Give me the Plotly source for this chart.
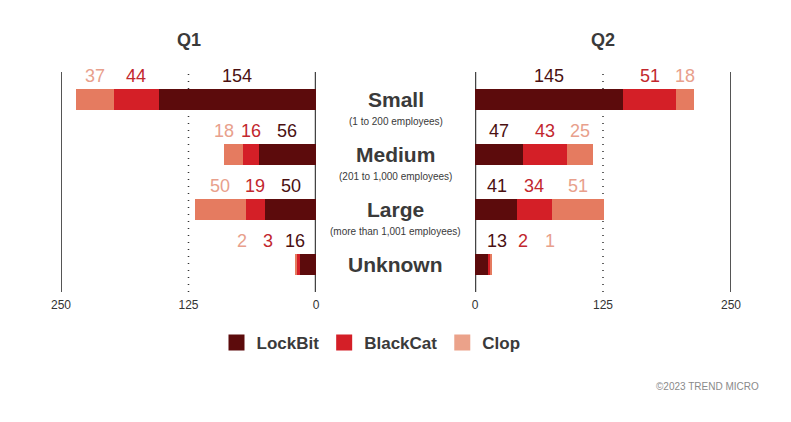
import plotly.graph_objects as go

# data
sizes = ["Small", "Medium", "Large", "Unknown"]
size_notes = ["(1 to 200 employees)", "(201 to 1,000 employees)", "(more than 1,001 employees)", ""]
groups = ["LockBit", "BlackCat", "Clop"]
q1_lockbit = [154, 56, 50, 16]
q1_blackcat = [44, 16, 19, 3]
q1_clop = [37, 18, 50, 2]
q2_lockbit = [145, 47, 41, 13]
q2_blackcat = [51, 43, 34, 2]
q2_clop = [18, 25, 51, 1]

bar_colors = ["#5c0b0c", "#d41f27", "#e57b60"]
text_colors = ["#4a1012", "#c2272e", "#e8a08c"]
legend_colors = ["#5c0b0c", "#d41f27", "#eba28a"]
ink = "#3a3a3a"
W, H = 791, 422
OFF = 8  # page body margin, so pixel targets are shifted by it


def px(x):
    return (x - OFF) / W


def py(y):
    return 1 - (y - OFF) / H


rows = list(range(len(sizes)))
fig = go.Figure()


def spread(stack, first_min=21, gap=26):
    # centre each label on its segment, then push apart so they don't collide
    out, start, prev = [], 0, None
    for v in stack:
        c = start + v / 2
        p = max(c, first_min) if prev is None else max(c, prev + gap)
        out.append(p)
        prev = p
        start += v
    return out


quarters = [("x", [q1_lockbit, q1_blackcat, q1_clop]), ("x2", [q2_lockbit, q2_blackcat, q2_clop])]
for qi, (xa, series) in enumerate(quarters):
    for k, vals in enumerate(series):
        fig.add_trace(go.Bar(
            x=vals, y=rows, orientation="h", name=groups[k], xaxis=xa, yaxis="y",
            marker=dict(color=bar_colors[k], line_width=0),
            width=0.38, showlegend=False, hoverinfo="x+name",
        ))
    # value labels above bars
    for r in rows:
        stack = [s[r] for s in series]
        for k, xp in enumerate(spread(stack)):
            fig.add_annotation(x=xp, y=r - 0.43, xref=xa, yref="y", text=str(stack[k]),
                               showarrow=False,
                               font=dict(size=18, color=text_colors[k], family="Liberation Sans"))

# legend-only proxies
for k, g in enumerate(groups):
    fig.add_trace(go.Scatter(x=[None], y=[None], mode="markers", name=g,
                             marker=dict(symbol="square", size=16, color=legend_colors[k])))

lx = [px(61), px(316)]
rx = [px(475), px(731)]
ybot, ytop = py(292), py(72)

axis_common = dict(tickvals=[0, 125, 250], showgrid=False, zeroline=False, showline=False,
                   ticks="", tickfont=dict(size=12, color="#333", family="Liberation Sans"),
                   ticklabelstandoff=4, fixedrange=True, automargin=False)
fig.update_layout(
    width=W, height=H, margin=dict(l=0, r=0, t=0, b=0, autoexpand=False),
    paper_bgcolor="white", plot_bgcolor="white", barmode="stack", bargap=0,
    xaxis=dict(domain=lx, range=[250, 0], anchor="y", **axis_common),
    xaxis2=dict(domain=rx, range=[0, 250], anchor="y", **axis_common),
    yaxis=dict(domain=[ybot, ytop], range=[3.5, -0.5], visible=False, fixedrange=True),
    legend=dict(orientation="h", x=px(371), xanchor="center", y=py(343), yanchor="middle",
                font=dict(size=17, color=ink, family="Liberation Sans", weight="bold"),
                traceorder="normal", bgcolor="rgba(0,0,0,0)"),
    showlegend=True,
)

# axis lines: solid at 0 and 250, dotted at 125
for xa in ["x", "x2"]:
    for v, dash, w, c in [(250, "solid", 2, "#555"), (0, "solid", 2.5, "#444"), (125, "1px,6px", 1.5, "#333")]:
        fig.add_shape(type="line", xref=xa, yref="paper", x0=v, x1=v, y0=ybot, y1=ytop,
                      line=dict(color=c, width=w, dash=dash), layer="below")

# quarter titles
for xa, t in [("x", "Q1"), ("x2", "Q2")]:
    fig.add_annotation(x=125, y=py(40), xref=xa, yref="paper", yanchor="middle",
                       text="<b>" + t + "</b>", showarrow=False,
                       font=dict(size=18, color=ink, family="Liberation Sans"))

# centre category labels
for r in rows:
    fig.add_annotation(x=px(395.5), y=r, xref="paper", yref="y", text="<b>" + sizes[r] + "</b>",
                       showarrow=False, font=dict(size=21, color=ink, family="Liberation Sans"))
    if size_notes[r]:
        fig.add_annotation(x=px(395.5), y=r + 0.4, xref="paper", yref="y", text=size_notes[r],
                           showarrow=False, font=dict(size=10, color=ink, family="Liberation Sans"))

fig.add_annotation(x=px(761), y=py(386), xref="paper", yref="paper", xanchor="right",
                   yanchor="middle", text="©2023 TREND MICRO", showarrow=False,
                   font=dict(size=10, color="#8a8a8a", family="Liberation Sans"))

fig.write_html("out.html")
